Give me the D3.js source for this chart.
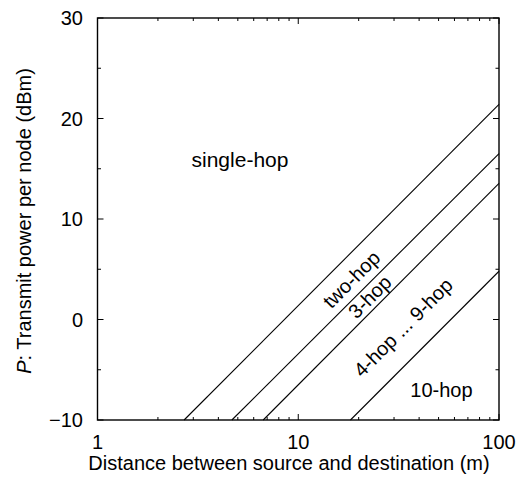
<!DOCTYPE html>
<html>
<head>
<meta charset="utf-8">
<script src="https://cdn.jsdelivr.net/npm/d3@7"></script>
<style>
  body { margin: 0; background: #fff; }
  svg { display: block; font-family: "Liberation Sans", Arial, Helvetica, sans-serif; }
</style>
</head>
<body>
<svg id="chart" width="523" height="483"></svg>
<script>
// Minimum transmit power vs. source–destination distance, per hop count
const seriesNames = ["two-hop", "3-hop", "4-hop ... 9-hop", "10-hop"];
// endpoints [distance (m), power (dBm)] of each line
const seriesStart = [[2.7, -10], [4.67, -10], [6.69, -10], [18.2, -10]];
const seriesEnd   = [[100, 21.4], [100, 16.5], [100, 13.55], [100, 4.8]];

const xMajorTicks = [1, 10, 100];
const xMinorTicks = [2, 3, 4, 5, 6, 7, 8, 9, 20, 30, 40, 50, 60, 70, 80, 90];
const yMajorTicks = [-10, 0, 10, 20, 30];
const yMinorTicks = [-5, 5, 15, 25];

// text labels placed in data coordinates [distance, power]
const regionLabels = [
  { text: "single-hop", at: [2.94, 15.2], rotate: 0, anchor: "start", size: 21 },
  { text: "two-hop", at: [18.4, 4.0], rotate: -45, anchor: "middle", size: 20 },
  { text: "3-hop", at: [22.7, 2.27], rotate: -45, anchor: "middle", size: 20 },
  { text: "4-hop ... 9-hop", at: [33.3, -0.78], rotate: -45, anchor: "middle", size: 20 },
  { text: "10-hop", at: [51.7, -7.68], rotate: 0, anchor: "middle", size: 20 }
];

const svg = d3.select("#chart");
const margin = { left: 97.5, right: 24, top: 18, bottom: 63 };
const W = 523, H = 483;

const x = d3.scaleLog().domain([1, 100]).range([margin.left, W - margin.right]);
const y = d3.scaleLinear().domain([-10, 30]).range([H - margin.bottom, margin.top]);

const fs = 20;
const g = svg.append("g");

// series lines
const line = d3.line().x(d => x(d[0])).y(d => y(d[1]));
seriesNames.forEach((name, i) => {
  g.append("path")
    .attr("d", line([seriesStart[i], seriesEnd[i]]))
    .attr("fill", "none")
    .attr("stroke", "#000")
    .attr("stroke-width", 1.1);
});

// inward ticks on all four sides
const x0 = x.range()[0], x1 = x.range()[1], y0 = y.range()[0], y1 = y.range()[1];
function tickLines(vals, len, horizontal) {
  vals.forEach(v => {
    if (horizontal) {
      const px = x(v);
      g.append("line").attr("x1", px).attr("x2", px).attr("y1", y0).attr("y2", y0 - len)
        .attr("stroke", "#000").attr("stroke-width", 1);
      g.append("line").attr("x1", px).attr("x2", px).attr("y1", y1).attr("y2", y1 + len)
        .attr("stroke", "#000").attr("stroke-width", 1);
    } else {
      const py = y(v);
      g.append("line").attr("x1", x0).attr("x2", x0 + len).attr("y1", py).attr("y2", py)
        .attr("stroke", "#000").attr("stroke-width", 1);
      g.append("line").attr("x1", x1).attr("x2", x1 - len).attr("y1", py).attr("y2", py)
        .attr("stroke", "#000").attr("stroke-width", 1);
    }
  });
}
tickLines(xMajorTicks, 6, true);
tickLines(xMinorTicks, 3, true);
tickLines(yMajorTicks, 6, false);
tickLines(yMinorTicks, 3.5, false);

// frame
g.append("rect")
  .attr("x", x0).attr("y", y1)
  .attr("width", x1 - x0).attr("height", y0 - y1)
  .attr("fill", "none").attr("stroke", "#000").attr("stroke-width", 1.4);

// tick labels
const fmtY = v => v < 0 ? "\u2212" + Math.abs(v) : String(v);
yMajorTicks.forEach(v => {
  g.append("text").attr("x", 83).attr("y", y(v)).attr("dy", "0.36em")
    .attr("text-anchor", "end").attr("font-size", fs).text(fmtY(v));
});
xMajorTicks.forEach(v => {
  g.append("text").attr("x", x(v)).attr("y", 449)
    .attr("text-anchor", "middle").attr("font-size", fs).text(String(v));
});

// axis titles
g.append("text").attr("x", 289).attr("y", 470)
  .attr("text-anchor", "middle").attr("font-size", fs)
  .text("Distance between source and destination (m)");

const yt = g.append("text")
  .attr("transform", `translate(31,221) rotate(-90)`)
  .attr("text-anchor", "middle").attr("font-size", fs);
yt.append("tspan").attr("font-style", "italic").text("P");
yt.append("tspan").text(": Transmit power per node (dBm)");

// region labels
regionLabels.forEach(l => {
  const px = x(l.at[0]), py = y(l.at[1]);
  g.append("text")
    .attr("transform", `translate(${px},${py}) rotate(${l.rotate})`)
    .attr("text-anchor", l.anchor)
    .attr("dy", l.rotate ? "0.35em" : 0)
    .attr("font-size", l.size).text(l.text);
});
</script>
</body>
</html>
